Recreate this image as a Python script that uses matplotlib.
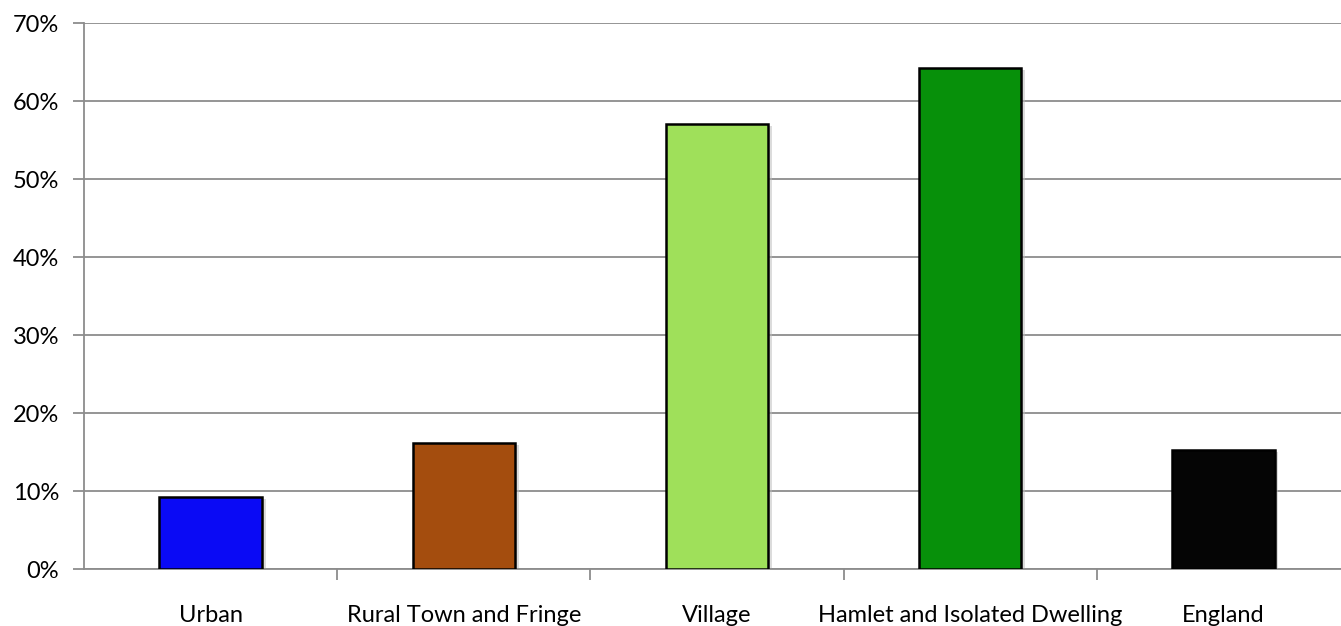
import matplotlib.pyplot as plt

categories = ['Urban', 'Rural Town and Fringe', 'Village',
              'Hamlet and Isolated Dwelling', 'England']
values = [9.2, 16.1, 57.1, 64.2, 15.2]
bar_colors = ['#0a0af5', '#a44d0e', '#9fe05a', '#07900a', '#050505']
y_ticks = [0, 10, 20, 30, 40, 50, 60, 70]

plt.rcParams['font.family'] = ['Lato', 'DejaVu Sans']

fig = plt.figure(figsize=(13.41, 6.26), dpi=100)
# plot area runs a little past the right edge of the image
ax = fig.add_axes([84 / 1341, 57 / 626, 1266 / 1341, 546 / 626])

x = list(range(len(categories)))
# faint shadow, then the bar itself
ax.bar([i + 0.012 for i in x], [v - 0.25 for v in values], width=0.41,
       color='#bbbbbb', alpha=0.5, zorder=2)
ax.bar(x, values, width=0.405, color=bar_colors, edgecolor='black',
       linewidth=1.8, zorder=3)

ax.set_xlim(-0.5, len(categories) - 0.5)
ax.set_ylim(0, 70)
ax.set_yticks(y_ticks)
ax.set_yticklabels([f'{t}%' for t in y_ticks], fontsize=17)
ax.yaxis.grid(True, color='#8c8c8c', linewidth=1.3, zorder=0)
ax.set_axisbelow(True)

ax.set_xticks([i + 0.5 for i in x[:-1]], minor=False)
ax.set_xticklabels([])
ax.set_xticks(x, minor=True)
ax.set_xticklabels(categories, minor=True, fontsize=17)
ax.tick_params(axis='x', which='minor', length=0, pad=26)
ax.tick_params(axis='x', which='major', length=8, color='#8c8c8c', width=1.3)
ax.tick_params(axis='y', length=8, color='#8c8c8c', width=1.3, pad=10)

for side in ['top', 'right']:
    ax.spines[side].set_visible(False)
for side in ['left', 'bottom']:
    ax.spines[side].set_color('#8c8c8c')
    ax.spines[side].set_linewidth(1.3)

fig.savefig('out.png', dpi=100)
